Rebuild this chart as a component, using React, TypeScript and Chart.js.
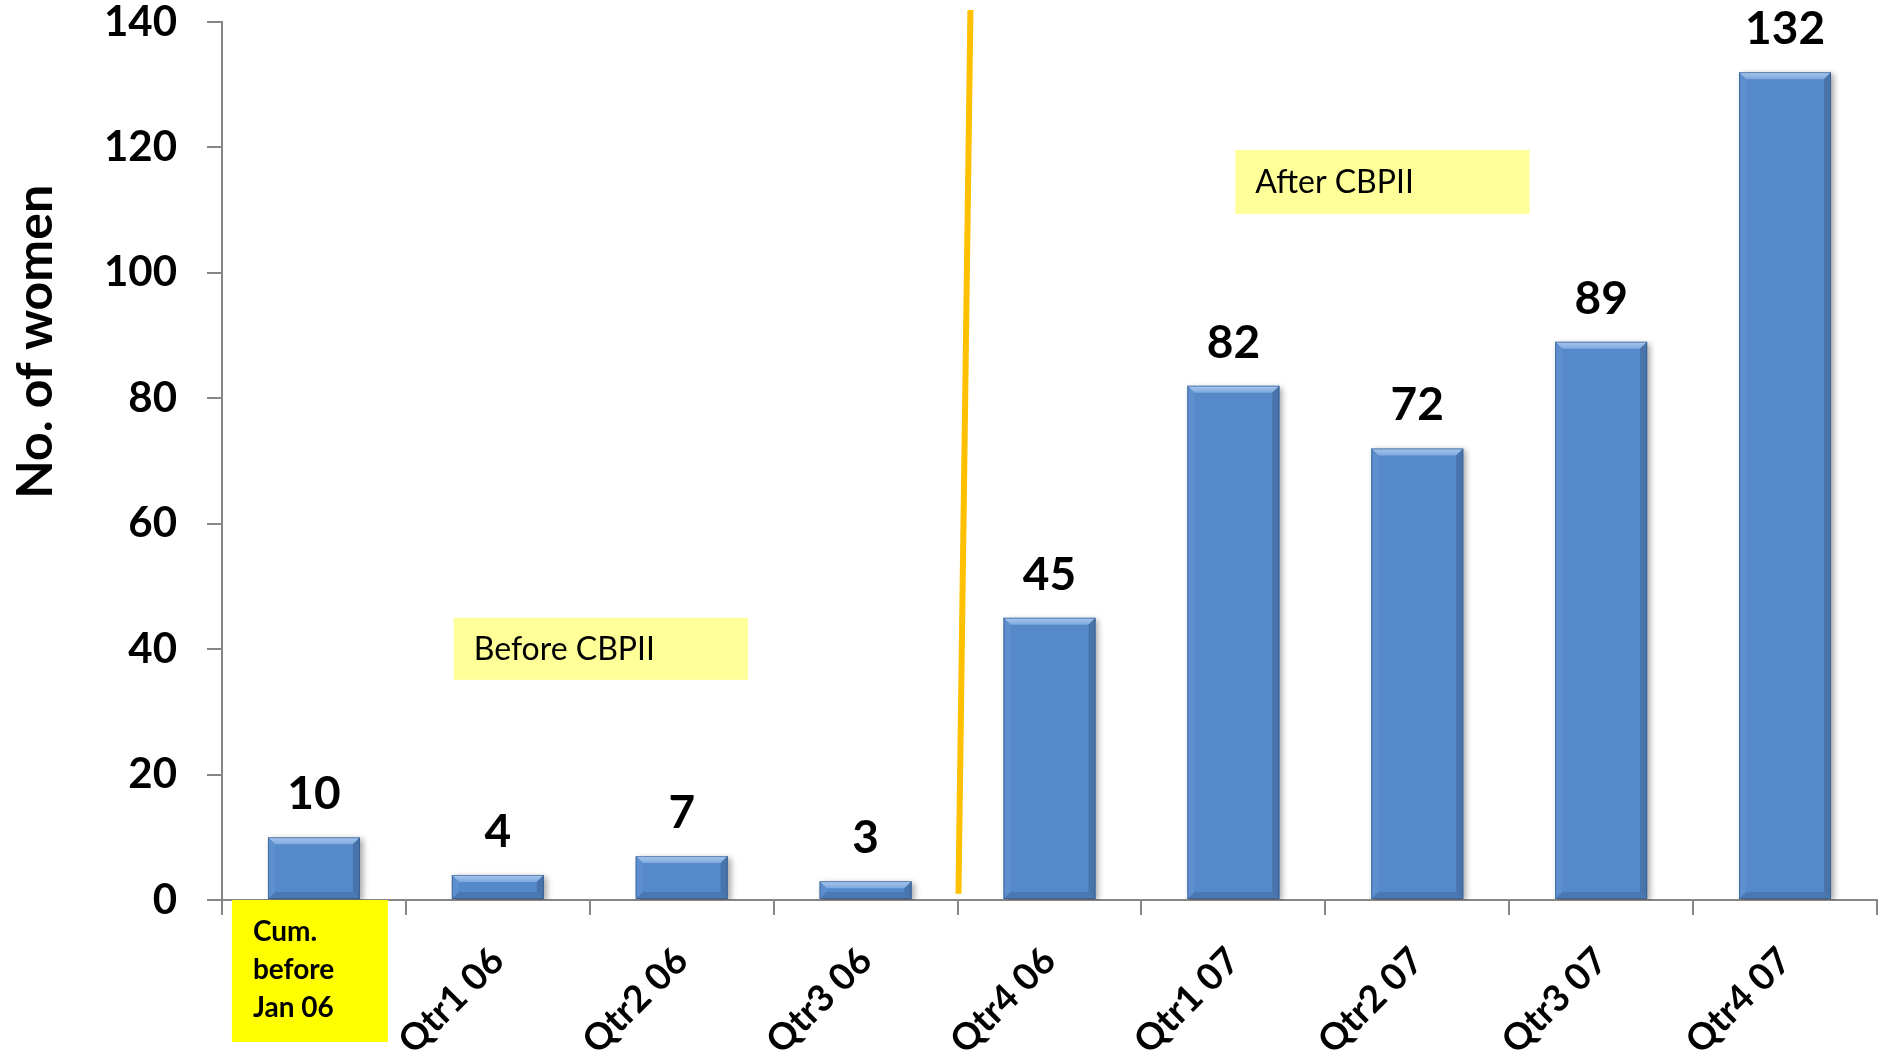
import React, { useEffect, useRef } from "react";
import { Chart, registerables } from "chart.js";

Chart.register(...registerables);

// ---------- data ----------
const categories = [
  "Cum. before Jan 06",
  "Qtr1 06",
  "Qtr2 06",
  "Qtr3 06",
  "Qtr4 06",
  "Qtr1 07",
  "Qtr2 07",
  "Qtr3 07",
  "Qtr4 07",
];
const women = [10, 4, 7, 3, 45, 82, 72, 89, 132];
const yTickValues = [0, 20, 40, 60, 80, 100, 120, 140];
const firstCategoryLines = ["Cum.", "before", "Jan 06"];
const yAxisTitle = "No. of women";

// period annotation boxes (category index / value coordinates)
const periodLabels = ["Before CBPII", "After CBPII"];
const periodBoxXFrom = [0.76, 5.01];
const periodBoxXTo = [2.36, 6.61];
const periodBoxYFrom = [35.1, 109.4];
const periodBoxYTo = [45, 119.6];

// divider line (category index / value coordinates)
const dividerX = [3.57, 3.505];
const dividerY = [141.9, 1];

const FONT = "Lato, 'Open Sans', 'Noto Sans', sans-serif";
const AXIS_GRAY = "#868686";

const decorPlugin = {
  id: "decor",
  beforeDatasetsDraw(chart: any) {
    const ctx = chart.ctx;
    ctx.save();
    ctx.shadowColor = "rgba(0,0,0,0.35)";
    ctx.shadowBlur = 6;
    ctx.shadowOffsetX = 3;
    ctx.shadowOffsetY = 2;
  },
  afterDatasetsDraw(chart: any) {
    const ctx = chart.ctx;
    ctx.restore();
    const meta = chart.getDatasetMeta(0);
    meta.data.forEach((bar: any, i: number) => {
      const { x, y, base, width } = bar.getProps(["x", "y", "base", "width"], true);
      const l = x - width / 2;
      const r = x + width / 2;
      const t = y;
      const b = base;
      const bv = Math.min(7, (b - t) / 2);
      // top bevel
      const g = ctx.createLinearGradient(0, t, 0, t + bv);
      g.addColorStop(0, "#a9c8ef");
      g.addColorStop(1, "#7ea8dd");
      ctx.fillStyle = g;
      ctx.beginPath();
      ctx.moveTo(l, t);
      ctx.lineTo(r, t);
      ctx.lineTo(r - bv, t + bv);
      ctx.lineTo(l + bv, t + bv);
      ctx.closePath();
      ctx.fill();
      // left bevel
      ctx.fillStyle = "#5e8fcf";
      ctx.beginPath();
      ctx.moveTo(l, t);
      ctx.lineTo(l + bv, t + bv);
      ctx.lineTo(l + bv, b - bv);
      ctx.lineTo(l, b);
      ctx.closePath();
      ctx.fill();
      // right bevel
      ctx.fillStyle = "#4873ab";
      ctx.beginPath();
      ctx.moveTo(r, t);
      ctx.lineTo(r - bv, t + bv);
      ctx.lineTo(r - bv, b - bv);
      ctx.lineTo(r, b);
      ctx.closePath();
      ctx.fill();
      // bottom bevel
      ctx.fillStyle = "#4a78b2";
      ctx.beginPath();
      ctx.moveTo(l, b);
      ctx.lineTo(l + bv, b - bv);
      ctx.lineTo(r - bv, b - bv);
      ctx.lineTo(r, b);
      ctx.closePath();
      ctx.fill();
      // outline
      ctx.strokeStyle = "rgba(50,85,130,0.6)";
      ctx.lineWidth = 1;
      ctx.strokeRect(l + 0.5, t + 0.5, width - 1, b - t - 1);

      // value label
      ctx.fillStyle = "#000";
      ctx.font = `bold 46px ${FONT}`;
      ctx.textAlign = "center";
      ctx.textBaseline = "alphabetic";
      ctx.fillText(String(women[i]), x, t - 28);
    });
  },
  afterDraw(chart: any) {
    const ctx = chart.ctx;
    const xs = chart.scales.x;
    const ys = chart.scales.y;
    ctx.save();

    // period boxes
    periodLabels.forEach((label, i) => {
      const x0 = xs.getPixelForValue(periodBoxXFrom[i]);
      const x1 = xs.getPixelForValue(periodBoxXTo[i]);
      const y0 = ys.getPixelForValue(periodBoxYTo[i]);
      const y1 = ys.getPixelForValue(periodBoxYFrom[i]);
      ctx.fillStyle = "#ffff99";
      ctx.fillRect(x0, y0, x1 - x0, y1 - y0);
      ctx.fillStyle = "#000";
      ctx.font = `32px ${FONT}`;
      ctx.textAlign = "left";
      ctx.textBaseline = "middle";
      ctx.fillText(label, x0 + 20, (y0 + y1) / 2 + 1);
    });

    // divider line
    ctx.strokeStyle = "#ffc000";
    ctx.lineWidth = 6;
    ctx.lineCap = "butt";
    ctx.beginPath();
    ctx.moveTo(xs.getPixelForValue(dividerX[0]), ys.getPixelForValue(dividerY[0]));
    ctx.lineTo(xs.getPixelForValue(dividerX[1]), ys.getPixelForValue(dividerY[1]));
    ctx.stroke();

    // first category label in yellow box
    const c0 = xs.getPixelForValue(0);
    const step = xs.getPixelForValue(1) - c0;
    const bx0 = c0 - step * 0.446;
    const bx1 = c0 + step * 0.402;
    const by0 = xs.top;
    const by1 = xs.top + 142;
    ctx.fillStyle = "#ffff00";
    ctx.fillRect(bx0, by0, bx1 - bx0, by1 - by0);
    ctx.fillStyle = "#000";
    ctx.font = `bold 28px ${FONT}`;
    ctx.textAlign = "left";
    ctx.textBaseline = "alphabetic";
    firstCategoryLines.forEach((line, i) => {
      ctx.fillText(line, bx0 + 21, by0 + 41 + i * 38);
    });

    // y axis title
    ctx.translate(36, ys.getPixelForValue(89));
    ctx.rotate(-Math.PI / 2);
    ctx.font = `bold 50px ${FONT}`;
    ctx.textAlign = "center";
    ctx.textBaseline = "middle";
    ctx.fillStyle = "#000";
    ctx.fillText(yAxisTitle, 0, 0);
    ctx.restore();
  },
};

export default function App() {
  const canvasRef = useRef<HTMLCanvasElement | null>(null);

  useEffect(() => {
    const canvas = canvasRef.current;
    if (!canvas) return;
    const chart = new Chart(canvas, {
      type: "bar",
      data: {
        labels: categories,
        datasets: [
          {
            data: women,
            backgroundColor: "#5589c9",
            borderWidth: 0,
            barPercentage: 0.5,
            categoryPercentage: 1,
          },
        ],
      },
      options: {
        responsive: false,
        animation: false,
        layout: { padding: { top: 22, right: 5, left: 0, bottom: 0 } },
        plugins: {
          legend: { display: false },
          tooltip: { enabled: false },
        },
        scales: {
          x: {
            offset: true,
            grid: {
              display: true,
              offset: true,
              drawOnChartArea: false,
              drawTicks: true,
              tickLength: 15,
              color: AXIS_GRAY,
              lineWidth: 2,
            },
            border: { color: AXIS_GRAY, width: 2 },
            ticks: {
              autoSkip: false,
              minRotation: 45,
              maxRotation: 45,
              padding: 24,
              color: "#000",
              font: { family: FONT, size: 37, weight: "bold" },
              callback: (_v: any, i: number) => (i === 0 ? "" : categories[i]),
            },
            afterFit: (scale: any) => {
              scale.height = 160;
              scale.paddingLeft = 0;
              scale.paddingRight = 0;
            },
          },
          y: {
            min: 0,
            max: 140,
            afterBuildTicks: (scale: any) => {
              scale.ticks = yTickValues.map((v) => ({ value: v }));
            },
            grid: {
              display: true,
              drawOnChartArea: false,
              drawTicks: true,
              tickLength: 15,
              color: AXIS_GRAY,
              lineWidth: 2,
            },
            border: { color: AXIS_GRAY, width: 2 },
            ticks: {
              padding: 30,
              color: "#000",
              font: { family: FONT, size: 42, weight: "bold", lineHeight: 1 },
            },
            afterFit: (scale: any) => {
              scale.width = 222;
              scale.paddingTop = 0;
              scale.paddingBottom = 0;
            },
          },
        },
      },
      plugins: [decorPlugin],
    });
    return () => chart.destroy();
  }, []);

  return (
    <div style={{ position: "absolute", left: 0, top: 0, width: 1882, height: 1060, background: "#fff" }}>
      <canvas ref={canvasRef} width={1882} height={1060} style={{ display: "block" }} />
    </div>
  );
}
